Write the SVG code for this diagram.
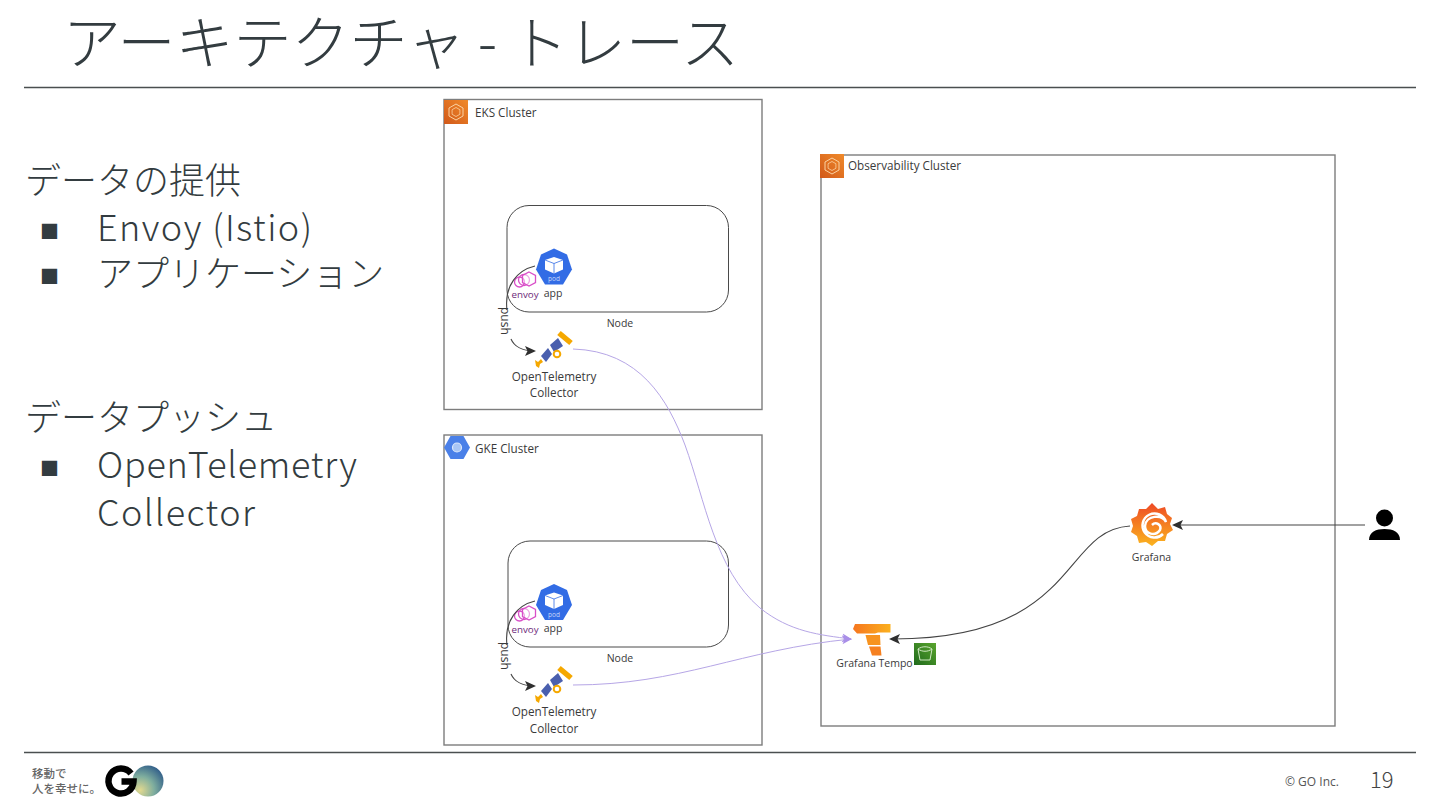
<svg xmlns="http://www.w3.org/2000/svg" width="1440" height="810" viewBox="0 0 1440 810">
<style>
text{font-family:"Noto Sans CJK JP","Noto Sans",sans-serif;fill:#37474f}
.title{font-size:58px;font-weight:300;fill:#333c40}
.body{font-size:36px;font-weight:300;fill:#333c40}
.bul{font-size:19px;fill:#333c40}
.lab{font-family:"Open Sans","Noto Sans",sans-serif;font-size:10.5px;fill:#3a3a3a}
.otl{font-family:"Open Sans","Noto Sans",sans-serif;font-size:11.7px;fill:#3a3a3a}
.env{font-family:"Open Sans","Noto Sans",sans-serif;font-size:9.800px;fill:#6d2a7a}
.cl{font-family:"Open Sans","Noto Sans",sans-serif;font-size:11.700px;fill:#3a3a3a}
.box{fill:#fff;stroke:#7d7d7d;stroke-width:1.4}
.node{fill:#fff;stroke:#4a4a4a;stroke-width:1}
.rule{stroke:#4a4f50;stroke-width:1.5}
.p{fill:none;stroke:#b6a6e6;stroke-width:1}
.k{fill:none;stroke:#444;stroke-width:1.100}
</style>
<defs>
<marker id="ak" markerWidth="12" markerHeight="12" refX="9" refY="5" orient="auto" markerUnits="userSpaceOnUse"><path d="M0 0L11 5L0 10L2.500 5Z" fill="#2f2f2f"/></marker>
<marker id="ap" markerWidth="12" markerHeight="10" refX="9" refY="4.500" orient="auto" markerUnits="userSpaceOnUse"><path d="M0 0L10 4.500L0 9L2.500 4.500Z" fill="#a98fe8"/></marker>
<linearGradient id="tg" x1="0" y1="0" x2="1" y2="0"><stop offset="0" stop-color="#f6761f"/><stop offset="1" stop-color="#fbb01e"/></linearGradient>
<linearGradient id="gg" x1="0" y1="0" x2="0" y2="1"><stop offset="0" stop-color="#ee4a25"/><stop offset="1" stop-color="#fbb41f"/></linearGradient>
<linearGradient id="s3g" x1="0" y1="1" x2="1" y2="0"><stop offset="0" stop-color="#1f6a1c"/><stop offset="1" stop-color="#5aa52e"/></linearGradient>
<linearGradient id="eksg" x1="0" y1="1" x2="1" y2="0"><stop offset="0" stop-color="#d1591a"/><stop offset="1" stop-color="#f08a2a"/></linearGradient>
<radialGradient id="globe" cx="0.25" cy="0.8" r="1"><stop offset="0" stop-color="#e2d98f"/><stop offset="0.45" stop-color="#7fae9e"/><stop offset="1" stop-color="#1f4c85"/></radialGradient>
<g id="eksIcon"><rect width="24" height="24" fill="url(#eksg)"/><path d="M12 4L19 8V16L12 20L5 16V8Z" fill="none" stroke="#fbd3a4" stroke-width="1"/><path d="M12 7.500L15.900 9.700V14.300L12 16.500L8.100 14.300V9.700Z" fill="none" stroke="#fbd3a4" stroke-width="0.800"/></g>
<g id="pod">
<path d="M18 0L31 6L36 21L27 36H9L0 21L5 6Z" fill="#326ce5"/>
<path d="M18 8.500L27 11.500V21L18 25L9 21V11.500Z" fill="#fff"/>
<path d="M9 11.500L18 15L27 11.500M18 15V25" fill="none" stroke="#326ce5" stroke-width="0.800"/>
<text x="18" y="32.500" text-anchor="middle" style="font-family:'Open Sans',sans-serif;font-size:6.500px;fill:#c9d8fa">pod</text>
</g>
<g id="envoyIcon" fill="none" stroke="#d94fc8" stroke-width="1.300">
<circle cx="6.500" cy="13" r="5"/><circle cx="11" cy="11" r="5.500"/>
<path d="M16 3L22.500 6.500V13.500L16 17L9.500 13.500V6.500Z" fill="#fff" fill-opacity="0.5"/>
</g>
<g id="otel">
<line x1="7" y1="-16" x2="19" y2="-6" stroke="#f5a800" stroke-width="5.500"/>
<path d="M-2 -4L6 -11L11 -3L2 3Z" fill="#4a5fae"/>
<path d="M-11 7L-4 -1L0 5L-6 13Z" fill="#4a5fae"/>
<circle cx="5" cy="5" r="3.300" fill="none" stroke="#f5a800" stroke-width="2"/>
<path d="M-17 11L-14 13L-11 10L-9 13L-12 15L-13 19L-16 17Z" fill="#f5a800"/>
</g>
</defs>
<rect width="1440" height="810" fill="#fff"/>
<g id="slide">
<text class="title" x="63" y="64">アーキテクチャ - トレース</text>
<line class="rule" x1="24" y1="87.500" x2="1416" y2="87.500"/>
<line class="rule" x1="24" y1="752.500" x2="1416" y2="752.500"/>
<text class="body" x="25" y="194">データの提供</text>
<text class="bul" x="40" y="239">■</text>
<text class="body" x="97" y="241" textLength="215">Envoy (Istio)</text>
<text class="bul" x="40" y="284">■</text>
<text class="body" x="97" y="287">アプリケーション</text>
<text class="body" x="25" y="431">データプッシュ</text>
<text class="bul" x="40" y="476">■</text>
<text class="body" x="97" y="478" textLength="260">OpenTelemetry</text>
<text class="body" x="97" y="526" textLength="158">Collector</text>
<g id="logo">
<text x="32" y="778" style="font-size:11.500px;fill:#666;font-weight:500">移動で</text>
<text x="32" y="793" style="font-size:11.500px;fill:#666;font-weight:500">人を幸せに。</text>
<circle cx="148" cy="781" r="15.500" fill="url(#globe)"/>
<path d="M131 773.500A12.500 12.500 0 1 0 133.500 781.500H121.500" fill="none" stroke="#000" stroke-width="6.500"/>
</g>
<text x="1285" y="786" style="font-family:'Open Sans',sans-serif;font-size:12px;fill:#555">© GO Inc.</text>
<text x="1370" y="788" style="font-size:22px;font-weight:300;fill:#444">19</text>
</g>
<g id="eks-cluster">
<rect class="box" x="444" y="99.500" width="318" height="310"/>
<use href="#eksIcon" x="444" y="100"/>
<text class="cl" x="475" y="117">EKS Cluster</text>
</g>
<g id="gke-cluster">
<rect class="box" x="444" y="435" width="318" height="310"/>
<path d="M450.500 436H463.500L470 447.500L463.500 459H450.500L444 447.500Z" fill="#4a80e8"/>
<circle cx="457" cy="447.500" r="4.500" fill="#a9c6f5" stroke="#dbe7fb" stroke-width="1.200"/>
<text class="cl" x="475" y="453">GKE Cluster</text>
</g>
<g id="observability-cluster">
<rect class="box" x="821" y="155" width="514" height="571"/>
<use href="#eksIcon" x="820" y="154"/>
<text class="cl" x="848" y="170">Observability Cluster</text>
</g>
<g id="eks-node">
<rect class="node" x="507" y="205.500" width="221.500" height="106.500" rx="22"/>
<text class="lab" x="620" y="327" text-anchor="middle">Node</text>
</g>
<g id="gke-node">
<rect class="node" x="508" y="541" width="220.500" height="106" rx="22"/>
<text class="lab" x="620" y="662" text-anchor="middle">Node</text>
</g>
<g id="eks-envoy">
<use href="#envoyIcon" x="513" y="269"/>
<text class="env" x="525" y="298" text-anchor="middle">envoy</text>
</g>
<g id="eks-app">
<use href="#pod" x="536" y="248.500"/>
<text class="lab" x="553" y="297" text-anchor="middle">app</text>
</g>
<g id="gke-envoy">
<use href="#envoyIcon" x="513" y="603"/>
<text class="env" x="525" y="632.500" text-anchor="middle">envoy</text>
</g>
<g id="gke-app">
<use href="#pod" x="536" y="584"/>
<text class="lab" x="553" y="632" text-anchor="middle">app</text>
</g>
<g id="eks-otel">
<use href="#otel" x="552" y="349"/>
<text class="otl" x="554" y="381" text-anchor="middle">OpenTelemetry</text>
<text class="otl" x="554" y="397" text-anchor="middle">Collector</text>
</g>
<g id="gke-otel">
<use href="#otel" x="552" y="684"/>
<text class="otl" x="554" y="716" text-anchor="middle">OpenTelemetry</text>
<text class="otl" x="554" y="732.500" text-anchor="middle">Collector</text>
</g>
<g id="tempo">
<path d="M855 624H890.500V632.500H878L875 633.500H857L853 629Z" fill="url(#tg)"/>
<path d="M865.500 635H880L880.500 645H868Z" fill="#f7931f"/>
<path d="M869 646.500H880.500L881.500 655.500H872Z" fill="#f6801f"/>
<text class="lab" x="874.500" y="667" text-anchor="middle">Grafana Tempo</text>
</g>
<g id="s3">
<rect x="914" y="643" width="22" height="22" fill="url(#s3g)"/>
<path d="M918 649C922 646 928 646 932 649L930 660H920Z M918 649C922 652 928 652 932 649" fill="none" stroke="#cfe8c2" stroke-width="1"/>
</g>
<g id="grafana">
<path d="M1152 503L1158 509L1165 507L1167 514L1172 518L1170 524L1173 530L1167 534L1165 541L1158 541L1152 546L1146 542L1139 543L1137 536L1131 532L1133 526L1131 519L1137 516L1139 509L1146 509Z" fill="url(#gg)"/>
<path d="M1163 534A12 12 0 1 1 1166 522C1162 514 1146 515 1145 526C1145 534 1155 537 1160 530C1162 525 1156 521 1152 525" fill="none" stroke="#fff" stroke-width="2.500"/>
<text class="lab" x="1151.500" y="561" text-anchor="middle">Grafana</text>
</g>
<g id="user">
<circle cx="1384.500" cy="518" r="8.500" fill="#000"/>
<path d="M1369 540C1369 532 1376 529 1384.500 529C1393 529 1400 532 1400 540Z" fill="#000"/>
</g>
<g id="connectors">
<path class="k" d="M535 266C518 270 504 285 507 310"/>
<path class="k" d="M511 339C514 346 522 351 534 351" marker-end="url(#ak)"/>
<path class="k" d="M535 601C518 605 504 620 507 645"/>
<path class="k" d="M511 674C514 681 522 686 534 686" marker-end="url(#ak)"/>
<path class="p" d="M573 349C640 351 668 400 685 445C705 500 715 570 760 608C790 632 820 635 851 639" marker-end="url(#ap)"/>
<path class="p" d="M573 685C680 685 740 650 851 639" marker-end="url(#ap)"/>
<path class="k" d="M1130 526C1060 530 1080 640 891 639" marker-end="url(#ak)"/>
<path class="k" d="M1365 525H1174" marker-end="url(#ak)"/>
<text class="lab" transform="translate(500.500 307)rotate(90)" style="font-size:12px">push</text>
<text class="lab" transform="translate(500.500 642)rotate(90)" style="font-size:12px">push</text>
</g>
</svg>
